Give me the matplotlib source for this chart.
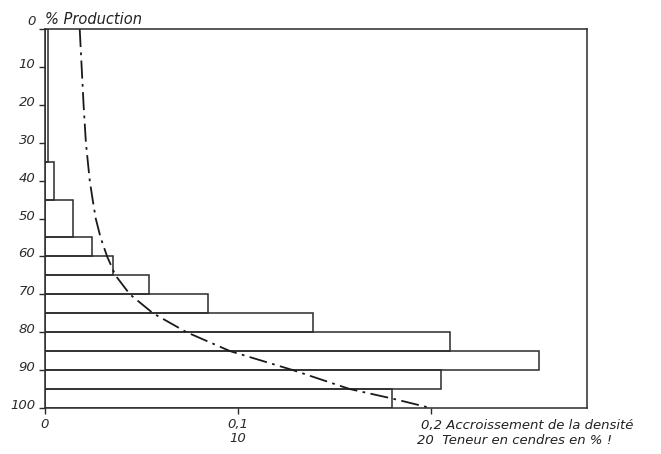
import matplotlib
matplotlib.use("Agg")
import matplotlib.pyplot as plt
import matplotlib.transforms as mtransforms

# tranches de production (%), bornes haute et basse
tranche_debut = [0, 35, 45, 55, 60, 65, 70, 75, 80, 85, 90, 95]
tranche_fin = [35, 45, 55, 60, 65, 70, 75, 80, 85, 90, 95, 100]
# accroissement de la densite par tranche
accroissement = [0.0016, 0.0047, 0.0145, 0.0245, 0.035, 0.054,
                 0.0846, 0.139, 0.210, 0.256, 0.2055, 0.180]

# courbe teneur en cendres (echelle 0.1 = 10 %)
courbe_prod = [0, 10, 20, 30, 40, 45, 50, 55, 60, 65, 70, 75, 80,
               85, 90, 95, 97.5, 100]
courbe_val = [0.018, 0.019, 0.020, 0.0212, 0.0232, 0.0247, 0.0263, 0.0288,
              0.0322, 0.0365, 0.044, 0.056, 0.0734, 0.096, 0.1285, 0.158,
              0.180, 0.200]

y_ticks = [0, 10, 20, 30, 40, 50, 60, 70, 80, 90, 100]

plt.rcParams['font.family'] = 'DejaVu Sans'
plt.rcParams['font.style'] = 'italic'

fig = plt.figure(figsize=(6.61, 4.54), dpi=100)
ax = fig.add_axes([45 / 661, 1 - 408 / 454, (587 - 45) / 661, (408 - 29) / 454])

hauteurs = [f - d for d, f in zip(tranche_debut, tranche_fin)]
ax.barh(tranche_debut, accroissement, height=hauteurs, left=0, align='edge',
        facecolor='none', edgecolor='#2b2b2b', linewidth=1.1)

ax.plot(courbe_val, courbe_prod, color='#1a1a1a', linewidth=1.3,
        dashes=(10, 3, 1.5, 3))

ax.set_xlim(0, 0.281)
ax.set_ylim(100, 0)

ax.set_yticks(y_ticks)
ax.set_yticklabels([str(v) for v in y_ticks])
ax.set_xticks([0, 0.1, 0.2])
ax.set_xticklabels(['0', '0,1\n10', ''])
ax.tick_params(axis='y', direction='out', length=4, pad=3, labelsize=9.5,
               width=1.0, colors='#2b2b2b')
ax.tick_params(axis='x', direction='out', length=4, pad=3, labelsize=9.5,
               width=1.0, colors='#2b2b2b')
for lab in ax.get_xticklabels():
    lab.set_linespacing(1.1)

shift = mtransforms.ScaledTranslation(0, 4 / 100, fig.dpi_scale_trans)
for lab in ax.get_yticklabels():
    lab.set_transform(lab.get_transform() + shift)
    lab.set_style('italic')
ax.get_yticklabels()[0].set_transform(ax.get_yticklabels()[0].get_transform()
                                      + mtransforms.ScaledTranslation(0, 5 / 100, fig.dpi_scale_trans))

for sp in ax.spines.values():
    sp.set_linewidth(1.1)
    sp.set_color('#2b2b2b')

fig.text(45 / 661, 1 - 19 / 454, '% Production', fontsize=10.5,
         ha='left', va='center', style='italic', color='#222222')
fig.text(421 / 661, 1 - 425 / 454, '0,2 Accroissement de la densité',
         fontsize=9.5, ha='left', va='center', style='italic', color='#222222')
fig.text(417 / 661, 1 - 441 / 454, '20  Teneur en cendres en % !',
         fontsize=9.5, ha='left', va='center', style='italic', color='#222222')

fig.savefig('out.png', dpi=100)
